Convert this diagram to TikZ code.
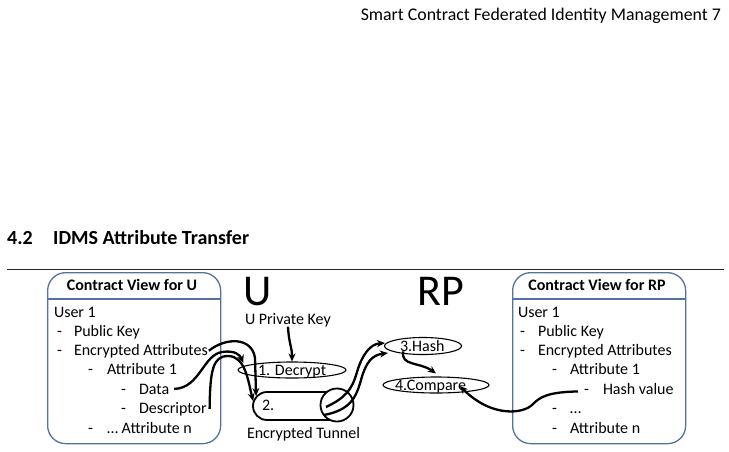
\documentclass[tikz,border=0pt]{standalone}
\usepackage{fontspec}
\setmainfont{Carlito}
\usetikzlibrary{arrows.meta,shapes.geometric,calc}
\definecolor{boxblue}{RGB}{84,114,160}
\tikzset{
  txt/.style={inner sep=0pt, outer sep=0pt, anchor=base west, font=\fontsize{16}{19}\selectfont},
  ttl/.style={inner sep=0pt, outer sep=0pt, anchor=base, font=\fontsize{16}{19}\selectfont\bfseries},
  viewbox/.style={draw=boxblue, line width=1.3pt, rounded corners=18pt, minimum width=173pt, minimum height=171pt, anchor=north west, inner sep=0pt},
  oval/.style={draw=black, line width=1.1pt, ellipse, inner sep=0pt},
  flow/.style={line width=2.3pt, -{Stealth[length=8pt,width=7pt]}},
}
\begin{document}
\begin{tikzpicture}[x=1pt,y=-1pt]
\useasboundingbox (0,0) rectangle (729,451);
% page header
\node[inner sep=0pt, anchor=base east, font=\fontsize{17.8}{20}\selectfont] (hdr) at (721,20) {Smart Contract Federated Identity Management 7};
\node[inner sep=0pt, anchor=base west, font=\fontsize{20}{24}\selectfont\bfseries] (secnum) at (7,244) {4.2};
\node[inner sep=0pt, anchor=base west, font=\fontsize{20}{24}\selectfont\bfseries] (sectitle) at (53,244) {IDMS Attribute Transfer};
\coordinate (ruleL) at (7,269);
\coordinate (ruleR) at (724,269);
\draw[line width=1pt, black!85] (ruleL) -- (ruleR);

% left box
\node[viewbox] (lbox) at (47,272) {};
\draw[boxblue, line width=1.2pt] (lbox.west |- 0,299) -- (lbox.east |- 0,299);
\node[ttl] (ltitle) at (132,290) {Contract View for U};
\node[txt] (luser) at (54,317) {User 1};
\node[txt] (ld1) at (57,336) {-};
\node[txt] (lpk) at (74,336) {Public Key};
\node[txt] (ld2) at (57,355) {-};
\node[txt] (lenc) at (74,355) {Encrypted Attributes};
\node[txt] (ld3) at (88,374) {-};
\node[txt] (lat1) at (107,374) {Attribute 1};
\node[txt] (ld4) at (121,394) {-};
\node[txt] (ldata) at (139,394) {Data};
\node[txt] (ld5) at (121,413) {-};
\node[txt] (ldesc) at (139,413) {Descriptor};
\node[txt] (ld6) at (88,433) {-};
\node[txt] (latn) at (107,433) {\dots\ Attribute n};

% right box
\node[viewbox] (rbox) at (512,272) {};
\draw[boxblue, line width=1.2pt] (rbox.west |- 0,299) -- (rbox.east |- 0,299);
\node[ttl] (rtitle) at (597,290) {Contract View for RP};
\node[txt] (ruser) at (518,317) {User 1};
\node[txt] (rd1) at (520,336) {-};
\node[txt] (rpk) at (538,336) {Public Key};
\node[txt] (rd2) at (520,355) {-};
\node[txt] (renc) at (538,355) {Encrypted Attributes};
\node[txt] (rd3) at (552,374) {-};
\node[txt] (rat1) at (570,374) {Attribute 1};
\node[txt] (rd4) at (584,394) {-};
\node[txt] (rhash) at (603,394) {Hash value};
\node[txt] (rd5) at (552,413) {-};
\node[txt] (rdots) at (570,413) {\dots};
\node[txt] (rd6) at (552,433) {-};
\node[txt] (ratn) at (570,433) {Attribute n};

% middle
\node[inner sep=0pt, anchor=base, font=\fontsize{44}{50}\selectfont] (bigU) at (258,305) {U};
\node[inner sep=0pt, anchor=base, font=\fontsize{44}{50}\selectfont] (bigRP) at (441,305) {RP};
\node[txt] (privkey) at (245,324) {U Private Key};

\node[oval, minimum width=108pt, minimum height=16pt] (decrypt) at (292,370) {};
\node[txt] (decrypttxt) at (258,375) {1. Decrypt};
\node[oval, minimum width=77pt, minimum height=17pt] (hash) at (423,346) {};
\node[txt] (hashtxt) at (400,351) {3.Hash};
\node[oval, minimum width=106pt, minimum height=16pt] (compare) at (436,385) {};
\node[txt] (comparetxt) at (395,390) {4.Compare};

\node[draw=black, line width=1.8pt, rounded corners=14pt, minimum width=100pt, minimum height=28pt, inner sep=0pt] (tunnel) at (303,406) {};
\node[draw=black, line width=1.8pt, fill=white, circle, minimum size=33pt, inner sep=0pt] (tend) at (337,405) {};
\node[txt] (two) at (262,410) {2.};
\node[txt] (tunneltxt) at (247,438) {Encrypted Tunnel};

% connectors
\draw[flow] (privkey.south -| 288,0) .. controls (289,345) and (292,346) .. (decrypt.north);
\draw[flow] ([xshift=1pt]lenc.east) .. controls (226,337) and (252,337) .. (255,358) -- ($(tunnel.west)+(4,-10)$);
\draw[flow] ([xshift=5pt]ldata.east) .. controls (200,388) and (203,355) .. (222,352) .. controls (235,350) and (240,355) .. ($(decrypt.west)+(6,-7)$);
\draw[flow] ([xshift=3pt]ldesc.east) .. controls (210,370) and (213,356) .. (228,356) .. controls (245,356) and (248,380) .. ($(tunnel.west)+(1,-5)$);
\draw[flow] ($(tend.center)+(-11,2)$) .. controls (345,398) and (352,390) .. (357,372) .. controls (362,355) and (370,344) .. ($(hash.west)+(1,-3)$);
\draw[flow] ($(tend.center)+(-13,10)$) .. controls (350,410) and (356,398) .. (361,380) .. controls (366,362) and (372,355) .. ($(hash.west)+(4,7)$);
\draw[flow] ($(hash.south west)+(8,-1)$) .. controls (400,366) and (420,362) .. ($(compare.north)+(0,-3)$);
\draw[flow] ([xshift=-6pt]rd4.west) .. controls (548,392) and (540,397) .. (533,404) .. controls (524,414) and (492,418) .. ($(compare.south east)+(-14,-5)$);
\end{tikzpicture}
\end{document}
